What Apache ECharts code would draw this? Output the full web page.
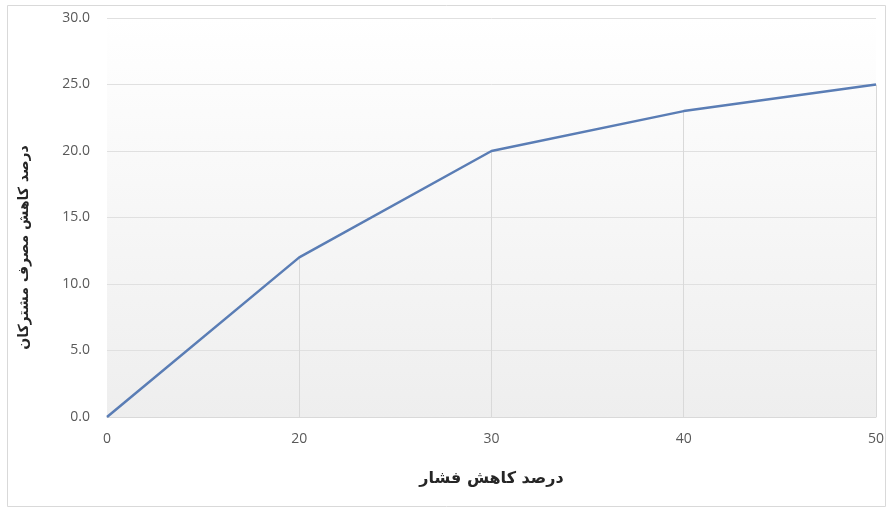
<!DOCTYPE html>
<html><head><meta charset="utf-8">
<script src="https://cdn.jsdelivr.net/npm/echarts@6/dist/echarts.min.js"></script>
<style>html,body{margin:0;padding:0;background:#fff}#c{width:887px;height:512px}</style>
</head><body><div id="c"></div>
<script>
const categories = ['0', '20', '30', '40', '50'];
const values = [0, 12, 20, 23, 25];
const xTitle = 'درصد کاهش فشار';
const yTitle = 'درصد کاهش مصرف مشترکان';

const chart = echarts.init(document.getElementById('c'));
const dropLines = values.map((v, i) => [{coord: [i, 0]}, {coord: [i, v]}]);
chart.setOption({
  animation: false,
  graphic: [{type: 'rect', shape: {x: 7.5, y: 5.5, width: 878, height: 501}, style: {fill: 'none', stroke: '#d9d9d9', lineWidth: 1}, z: -1}],
  grid: {left: 107, right: 11, top: 18, bottom: 95, show: true, borderWidth: 0,
    backgroundColor: new echarts.graphic.LinearGradient(0, 0, 0, 1, [{offset: 0, color: '#ffffff'}, {offset: 1, color: '#eeeeee'}])},
  xAxis: {type: 'category', data: categories, boundaryGap: false,
    name: xTitle, nameLocation: 'middle', nameGap: 54,
    nameTextStyle: {fontFamily: 'DejaVu Sans', fontWeight: 'bold', fontSize: 16, color: '#262626'},
    axisLine: {lineStyle: {color: '#d9d9d9'}}, axisTick: {show: false},
    axisLabel: {color: '#595959', fontFamily: 'Open Sans', fontSize: 14, margin: 15},
    splitLine: {show: false}},
  yAxis: {type: 'value', min: 0, max: 30, interval: 5,
    name: yTitle, nameLocation: 'middle', nameGap: 76, nameRotate: 90,
    nameTextStyle: {fontFamily: 'DejaVu Sans', fontWeight: 'bold', fontSize: 14, color: '#262626', padding: [0, 60, 0, 0]},
    axisLine: {show: false}, axisTick: {show: false},
    axisLabel: {color: '#595959', fontFamily: 'Open Sans', fontSize: 14, margin: 17, formatter: v => v.toFixed(1)},
    splitLine: {lineStyle: {color: '#e0e0e0'}}},
  series: [{type: 'line', data: values, symbol: 'none',
    lineStyle: {color: '#5a7db5', width: 2.5},
    markLine: {silent: true, symbol: 'none', label: {show: false},
      lineStyle: {color: '#d9d9d9', type: 'solid', width: 1}, data: dropLines, z: 1}}]
});
</script></body></html>
